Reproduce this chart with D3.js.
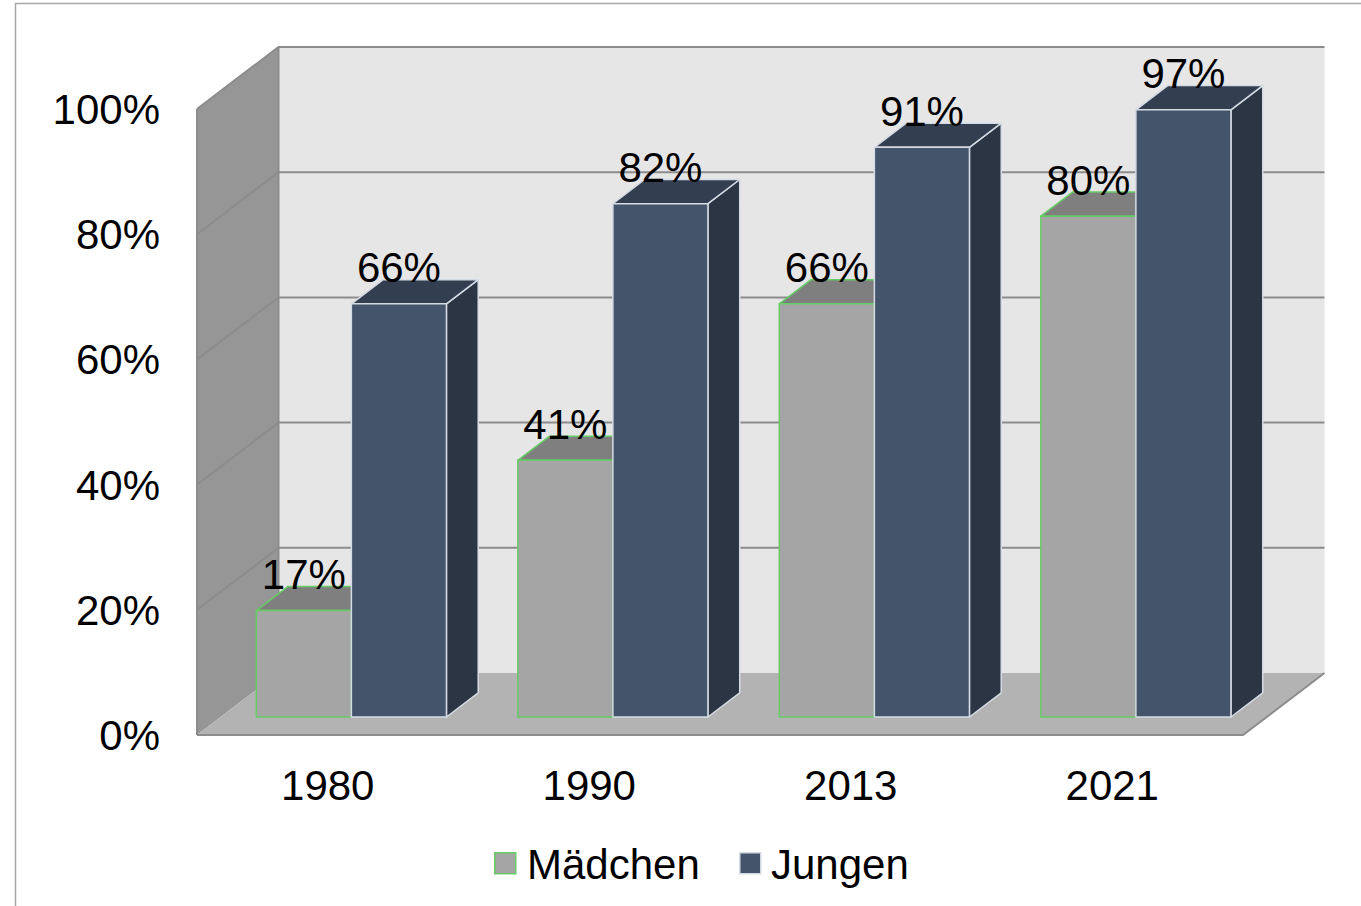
<!DOCTYPE html>
<html>
<head>
<meta charset="utf-8">
<script src="https://cdn.jsdelivr.net/npm/d3@7"></script>
<style>
  html, body { margin: 0; padding: 0; background: #ffffff; }
  svg { display: block; }
  text { font-family: "Liberation Sans", Arial, sans-serif; fill: #000; }
</style>
</head>
<body>
<svg id="chart" width="1361" height="906"></svg>
<script>
// ---- data ----
const categories = ["1980", "1990", "2013", "2021"];
const seriesNames = ["Mädchen", "Jungen"];
const maedchen = [0.17, 0.41, 0.66, 0.80];
const jungen = [0.66, 0.82, 0.91, 0.97];
const yTicks = [0, 0.2, 0.4, 0.6, 0.8, 1.0];

// ---- layout ----
const W = 1361, H = 906;
const FS = 42;
const svg = d3.select("#chart");

const x0 = 197, x1 = 1243;          // front plane horizontal extent
const DX = 81.5, DY = 62;           // full depth offset
const dFront = 0.29, dBack = 0.68;  // bar depth range (fraction)

const y = d3.scaleLinear().domain([0, 1]).range([735, 109]);
const xCat = d3.scaleBand().domain(categories).range([x0, x1])
  .paddingInner(0.273).paddingOuter(0.1365);
const xSer = d3.scaleBand().domain(seriesNames).range([0, xCat.bandwidth()]).padding(0);
const fmt = d3.format(".0%");

const P = (px, py, d) => [px + d * DX, py - d * DY];
const poly = pts => "M" + pts.map(p => p.join(",")).join("L") + "Z";

// outer border
svg.append("rect").attr("x", 15.5).attr("y", 3.5).attr("width", W).attr("height", H)
  .attr("fill", "none").attr("stroke", "#a6a6a6").attr("stroke-width", 1.5);

const yBot = y(0), yTop = y(1);

// back wall
svg.append("path")
  .attr("d", poly([P(x0, yTop, 1), P(x1, yTop, 1), P(x1, yBot, 1), P(x0, yBot, 1)]))
  .attr("fill", "#e6e6e6");
// left wall
svg.append("path")
  .attr("d", poly([P(x0, yTop, 0), P(x0, yTop, 1), P(x0, yBot, 1), P(x0, yBot, 0)]))
  .attr("fill", "#969696");
// floor
svg.append("path")
  .attr("d", poly([P(x0, yBot, 0), P(x0, yBot, 1), P(x1, yBot, 1), P(x1, yBot, 0)]))
  .attr("fill", "#b3b3b3");

// gridlines (back wall + left wall)
const grid = svg.append("g").attr("stroke", "#8c8c8c").attr("stroke-width", 2).attr("fill", "none");
yTicks.filter(t => t > 0).forEach(t => {
  const a = P(x0, y(t), 0), b = P(x0, y(t), 1), c = P(x1, y(t), 1);
  grid.append("path").attr("d", "M" + a + "L" + b + "L" + c);
});
// edges
const edges = svg.append("g").attr("stroke", "#8c8c8c").attr("stroke-width", 2).attr("fill", "none");
edges.append("path").attr("d", "M" + P(x0, yTop, 1) + "L" + P(x0, yBot, 1));
edges.append("path").attr("d", "M" + P(x0, yBot, 0) + "L" + P(x1, yBot, 0) + "L" + P(x1, yBot, 1));
edges.append("path").attr("d", "M" + P(x0, yTop, 0) + "L" + P(x0, yBot, 0));

// bars
const styles = {
  "Mädchen": { front: "#a5a5a5", top: "#7f7f7f", side: "#8a8a8a", stroke: "#66cc66" },
  "Jungen":  { front: "#44546a", top: "#333f50", side: "#2b3544", stroke: "#d5dbe4" }
};
const bars = svg.append("g");
const labels = [];
categories.forEach((cat, i) => {
  [["Mädchen", maedchen[i]], ["Jungen", jungen[i]]].forEach(([s, v]) => {
    const st = styles[s];
    const bx0 = xCat(cat) + xSer(s), bx1 = bx0 + xSer.bandwidth();
    const yt = y(v), yb = y(0);
    const g = bars.append("g").attr("stroke", st.stroke).attr("stroke-width", 1.5)
      .attr("stroke-linejoin", "round");
    // side face
    g.append("path").attr("fill", st.side)
      .attr("d", poly([P(bx1, yt, dFront), P(bx1, yt, dBack), P(bx1, yb, dBack), P(bx1, yb, dFront)]));
    // top face
    g.append("path").attr("fill", st.top)
      .attr("d", poly([P(bx0, yt, dFront), P(bx0, yt, dBack), P(bx1, yt, dBack), P(bx1, yt, dFront)]));
    // front face
    g.append("path").attr("fill", st.front)
      .attr("d", poly([P(bx0, yt, dFront), P(bx1, yt, dFront), P(bx1, yb, dFront), P(bx0, yb, dFront)]));
    const c = P((bx0 + bx1) / 2, yt, dBack);
    labels.push({ x: (bx0 + bx1) / 2 + dFront * DX, y: c[1] + 2.5, t: fmt(v) });
  });
});

// value labels
svg.append("g").selectAll("text").data(labels).join("text")
  .attr("x", d => d.x).attr("y", d => d.y)
  .attr("text-anchor", "middle").attr("font-size", FS)
  .text(d => d.t);

// y axis labels
svg.append("g").selectAll("text").data(yTicks).join("text")
  .attr("x", 160).attr("y", d => y(d) + 15)
  .attr("text-anchor", "end").attr("font-size", FS)
  .text(d => fmt(d));

// x axis labels
svg.append("g").selectAll("text").data(categories).join("text")
  .attr("x", d => xCat(d) + xCat.bandwidth() / 2).attr("y", 800)
  .attr("text-anchor", "middle").attr("font-size", FS)
  .text(d => d);

// legend
const legendItems = [
  { name: "Mädchen", sx: 494, tx: 527 },
  { name: "Jungen", sx: 739, tx: 771 }
];
const lg = svg.append("g");
legendItems.forEach(it => {
  const st = styles[it.name];
  lg.append("rect").attr("x", it.sx + 0.75).attr("y", 852.75).attr("width", 21).attr("height", 21)
    .attr("fill", st.front).attr("stroke", st.stroke).attr("stroke-width", 1.5);
  lg.append("text").attr("x", it.tx).attr("y", 879).attr("font-size", FS).text(it.name);
});
</script>
</body>
</html>
